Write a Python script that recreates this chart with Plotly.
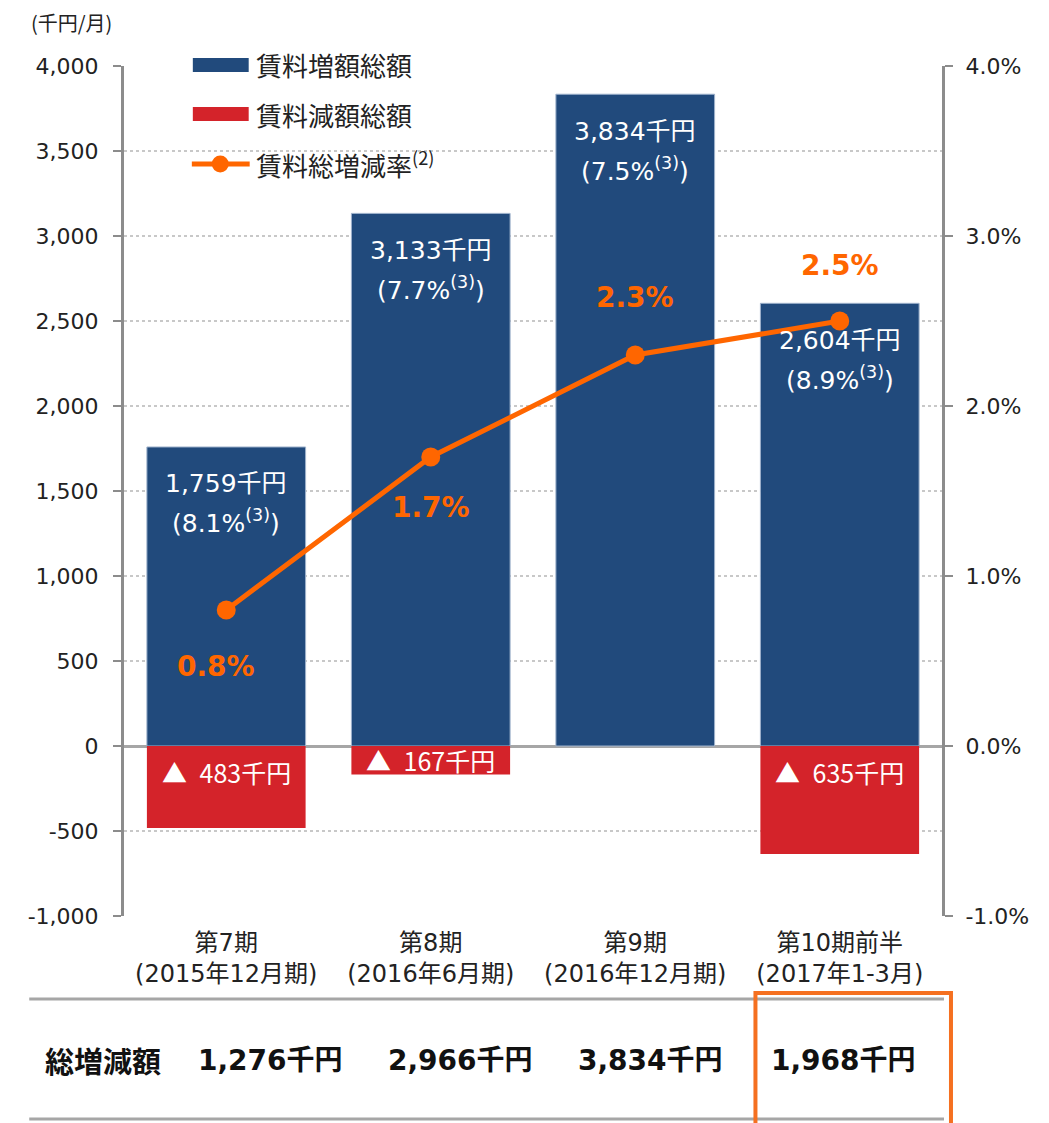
import plotly.graph_objects as go

# ---- data ----
categories = ["第7期<br>(2015年12月期)", "第8期<br>(2016年6月期)", "第9期<br>(2016年12月期)", "第10期前半<br>(2017年1-3月)"]
increase = [1759, 3133, 3834, 2604]
increase_pct = ["8.1%", "7.7%", "7.5%", "8.9%"]
decrease = [-483, -167, 0, -635]
rate = [0.008, 0.017, 0.023, 0.025]
totals = ["1,276千円", "2,966千円", "3,834千円", "1,968千円"]

left_tickvals = [-1000, -500, 0, 500, 1000, 1500, 2000, 2500, 3000, 3500, 4000]
left_ticktext = ["-1,000", "-500", "0", "500", "1,000", "1,500", "2,000", "2,500", "3,000", "3,500", "4,000"]
right_tickvals = [-0.01, 0.0, 0.01, 0.02, 0.03, 0.04]
right_ticktext = ["-1.0%", "0.0%", "1.0%", "2.0%", "3.0%", "4.0%"]

BLUE = "#214a7c"
RED = "#d4232a"
ORANGE = "#ff6600"
AXIS = "#8c8c8c"
FONT = "DejaVu Sans, Noto Sans CJK JP, sans-serif"
CJK = "Noto Sans CJK JP, sans-serif"

# page geometry (pixels in the browser page); body has an 8px margin
W, H = 1049, 1123
OFF = 8
L, R, T, B = 124, 944, 66, 916
FW, FH = W - 2 * OFF, H - OFF


def px(x):
    return (x - L) / (R - L)


def py(y):
    return (B - y) / (B - T)


fig = go.Figure()
fig.add_trace(go.Bar(x=categories, y=increase, marker=dict(color=BLUE, line=dict(color="#9fb2cc", width=1)),
                     width=0.776, name="賃料増額総額", showlegend=False))
fig.add_trace(go.Bar(x=categories, y=decrease, marker=dict(color=RED, line=dict(width=0)),
                     width=0.776, name="賃料減額総額", showlegend=False))
fig.add_trace(go.Scatter(x=categories, y=rate, yaxis="y2", mode="lines+markers",
                         line=dict(color=ORANGE, width=5), marker=dict(size=19, color=ORANGE),
                         name="賃料総増減率", showlegend=False))

ann = []
# labels inside the increase bars
for c, v, p in zip(categories, increase, increase_pct):
    ann.append(dict(x=c, y=v, xref="x", yref="y", text=f"{v:,}千円", showarrow=False,
                    xanchor="center", yanchor="middle",
                    yshift=-37, font=dict(family=FONT, size=25, color="white")))
    ann.append(dict(x=c, y=v, xref="x", yref="y", text=f"({p}<sup>(3)</sup>)", showarrow=False,
                    xanchor="center", yanchor="middle",
                    yshift=-75, font=dict(family=FONT, size=25, color="white")))
# labels in decrease bars
for c, v in zip(categories, decrease):
    if v < 0:
        ann.append(dict(x=c, y=max(v / 2, -155), xref="x", yref="y", text=f"▲\u2002{-v}千円", showarrow=False,
                        xanchor="center", yanchor="middle",
                        font=dict(family=CJK, size=25, color="white")))
# rate labels
rate_shift = [-56, -50, 58, 56]
rate_xshift = [-10, 0, 0, 0]
for c, r, s, xs in zip(categories, rate, rate_shift, rate_xshift):
    ann.append(dict(x=c, y=r, xref="x", yref="y2", text=f"<b>{r*100:.1f}%</b>", showarrow=False,
                    xanchor="center", yanchor="middle",
                    yshift=s, xshift=xs, font=dict(family=FONT, size=28, color=ORANGE)))
# unit label
ann.append(dict(x=px(71), y=py(22), xref="paper", yref="paper", text="(千円/月)", showarrow=False,
                xanchor="center", yanchor="middle",
                font=dict(family=CJK, size=20, color="#222222")))
# legend (manual)
leg_items = [("賃料増額総額", 65), ("賃料減額総額", 114), ("賃料総増減率<sup>(2)</sup>", 164)]
for t, yy in leg_items:
    ann.append(dict(x=px(254), y=py(yy), xref="paper", yref="paper", text=t, showarrow=False,
                    xanchor="left", yanchor="middle", font=dict(family=CJK, size=26, color="#222222")))
# bottom table
ann.append(dict(x=px(103), y=py(1060), xref="paper", yref="paper", text="<b>総増減額</b>", showarrow=False,
                xanchor="center", yanchor="middle",
                font=dict(family=CJK, size=29, color="#111111")))
total_x = [271, 461, 652, 845]
for t, xx in zip(totals, total_x):
    ann.append(dict(x=px(xx), y=py(1060), xref="paper", yref="paper", text=f"<b>{t}</b>", showarrow=False,
                    xanchor="center", yanchor="middle",
                    font=dict(family=FONT, size=28, color="#111111")))

shapes = [
    dict(type="rect", xref="paper", yref="paper", x0=px(193), x1=px(249), y0=py(72), y1=py(58),
         fillcolor=BLUE, line=dict(width=0)),
    dict(type="rect", xref="paper", yref="paper", x0=px(193), x1=px(249), y0=py(121), y1=py(107),
         fillcolor=RED, line=dict(width=0)),
    dict(type="line", xref="paper", yref="paper", x0=px(192), x1=px(250), y0=py(164), y1=py(164),
         line=dict(color=ORANGE, width=5)),
    dict(type="circle", xref="paper", yref="paper", x0=px(212), x1=px(229), y0=py(172.5), y1=py(155.5),
         fillcolor=ORANGE, line=dict(width=0)),
    dict(type="line", xref="paper", yref="paper", x0=px(29), x1=px(946), y0=py(999), y1=py(999),
         line=dict(color="#a6a6a6", width=3)),
    dict(type="line", xref="paper", yref="paper", x0=px(29), x1=px(946), y0=py(1119), y1=py(1119),
         line=dict(color="#a6a6a6", width=3)),
    dict(type="rect", xref="paper", yref="paper", x0=px(757), x1=px(953), y0=py(1140), y1=py(993),
         line=dict(color="#f57020", width=4), fillcolor="rgba(0,0,0,0)"),
]

fig.update_layout(
    width=FW, height=FH,
    margin=dict(l=L - OFF, r=FW - (R - OFF), t=T - OFF, b=FH - (B - OFF), pad=0),
    paper_bgcolor="white", plot_bgcolor="white",
    barmode="relative", bargap=0.224,
    font=dict(family=FONT, size=22, color="#222222"),
    xaxis=dict(showline=False, ticks="", tickfont=dict(family=FONT, size=24, color="#222222"),
               range=[-0.5, 3.5], showgrid=False, zeroline=False, ticklabelstandoff=10),
    yaxis=dict(range=[-1000, 4000], tickvals=left_tickvals, ticktext=left_ticktext, showgrid=True,
               gridcolor="#c8c8c8", griddash="dot", gridwidth=1.5,
               zeroline=True, zerolinecolor="#a6a6a6", zerolinewidth=3,
               showline=True, linecolor=AXIS, linewidth=3, ticks="outside", ticklen=8,
               tickwidth=2, tickcolor=AXIS, tickfont=dict(size=22, color="#222222"), ticklabelstandoff=10),
    yaxis2=dict(range=[-0.01, 0.04], tickvals=right_tickvals, ticktext=right_ticktext,
                overlaying="y", side="right",
                showgrid=False, zeroline=False, showline=True, linecolor=AXIS, linewidth=3,
                ticks="outside", ticklen=8, tickwidth=2, tickcolor=AXIS,
                tickfont=dict(size=22, color="#222222"), ticklabelstandoff=8),
    annotations=ann, shapes=shapes, showlegend=False,
)

fig.write_html("out.html")
